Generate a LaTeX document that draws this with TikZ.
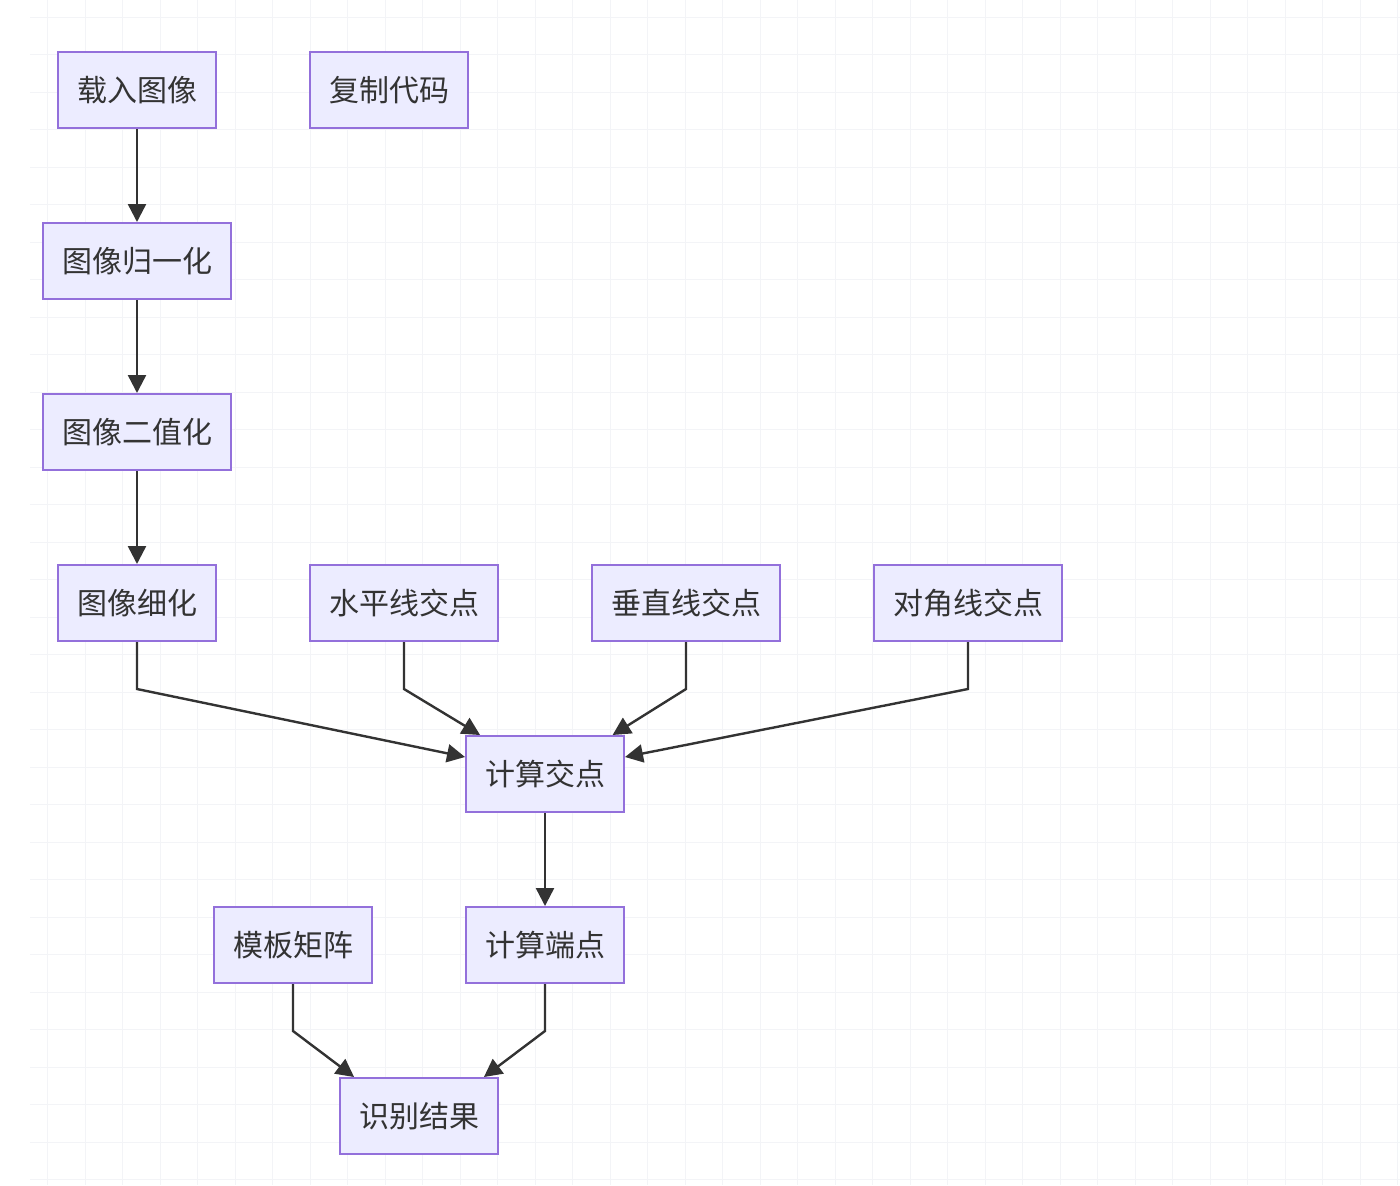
\documentclass[tikz,border=0pt]{standalone}
\usepackage{fontspec}
\setmainfont{Noto Sans CJK SC}
\usetikzlibrary{arrows.meta}

\definecolor{boxfill}{HTML}{ECECFF}
\definecolor{boxline}{HTML}{9370DB}
\definecolor{linkgray}{HTML}{333333}
\definecolor{gridgray}{HTML}{F3F4F7}

\begin{document}
\begin{tikzpicture}[x=0.5pt, y=-0.5pt, >={Triangle[length=9pt,width=9pt]},
  proc/.style={draw=boxline, fill=boxfill, line width=1pt, text=linkgray,
    minimum height=38pt, inner xsep=9.5pt, inner ysep=0pt,
    font=\fontsize{15pt}{18pt}\selectfont},
  link/.style={->, draw=linkgray, line width=1.2pt},
  gridline/.style={draw=gridgray, line width=0.5pt}]

\useasboundingbox (0,0) rectangle (1400,1185);

% faint background grid
\foreach \gx in {47.5,85,...,1400}
  \draw[gridline] (\gx,0) -- (\gx,1185);
\foreach \gy in {17,54.5,...,1185}
  \draw[gridline] (30,\gy) -- (1400,\gy);

% left column
\node[proc] (load) at (137,90) {载入图像};
\node[proc] (copy) at (389,90) {复制代码};
\node[proc] (norm) at (137,261) {图像归一化};
\node[proc] (bin) at (137,432) {图像二值化};
\node[proc] (thin) at (137,603) {图像细化};

% intersection row
\node[proc] (hor) at (404,603) {水平线交点};
\node[proc] (ver) at (686,603) {垂直线交点};
\node[proc] (diag) at (968,603) {对角线交点};

\node[proc] (calc) at (545,774) {计算交点};
\node[proc] (endp) at (545,945) {计算端点};
\node[proc] (tmpl) at (293,945) {模板矩阵};
\node[proc] (res) at (419,1116) {识别结果};

\draw[link] (load) -- (norm);
\draw[link] (norm) -- (bin);
\draw[link] (bin) -- (thin);

\draw[link] (thin.south) -- ++(0,47) -- (calc.168);
\draw[link] (hor.south) -- ++(0,47) -- (calc.149);
\draw[link] (ver.south) -- ++(0,47) -- (calc.30);
\draw[link] (diag.south) -- ++(0,47) -- (calc.12);

\draw[link] (calc) -- (endp);

\draw[link] (tmpl.south) -- ++(0,47) -- (res.149);
\draw[link] (endp.south) -- ++(0,47) -- (res.31);

\end{tikzpicture}
\end{document}
